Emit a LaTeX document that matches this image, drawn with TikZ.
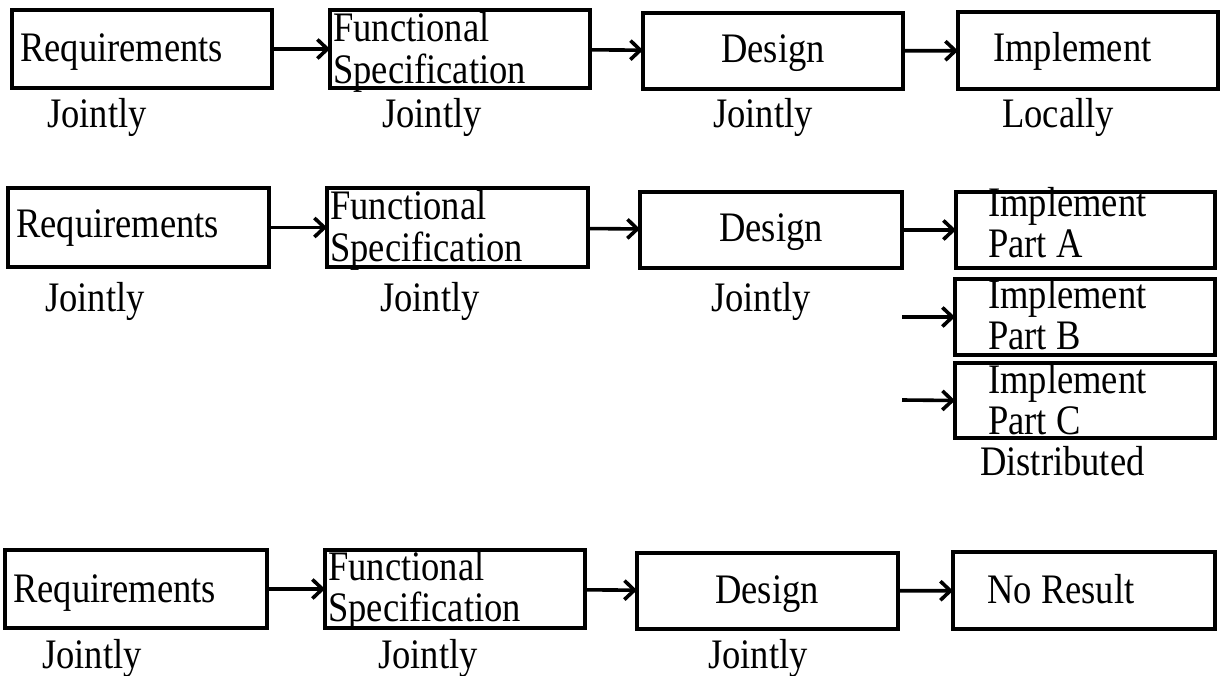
\documentclass[tikz,border=0pt]{standalone}
\usepackage{graphicx}
\usepackage{fontspec}
\setmainfont{Liberation Serif}
\usetikzlibrary{arrows.meta}

% slightly condensed text, as in the printed chart
\newcommand\narrow[1]{\scalebox{0.87}[1]{#1}}
\newcommand\twolines[2]{\narrow{\begin{tabular}[t]{@{}l@{}}#1\\#2\end{tabular}}}

\tikzset{
  stage/.style={draw, line width=3.6pt, inner sep=0pt, outer sep=0pt,
                minimum width=260pt, minimum height=77pt},
  txt/.style={inner sep=0pt, anchor=base west},
  ctxt/.style={inner sep=0pt, anchor=base},
  flow/.style={line width=3.6pt, -{Straight Barb[length=10pt,width=19pt]}}
}

\begin{document}
\begin{tikzpicture}[x=1pt, y=-1pt, font=\fontsize{42}{41}\selectfont]
\fill[white] (0,0) rectangle (1225,676);
\useasboundingbox (0,0) rectangle (1225,676);

% ---------- first flow: implemented locally ----------
\node[stage, minimum height=78pt] (r1) at (142,49) {};
\node[stage, minimum height=78pt] (f1) at (460,49) {};
\node[stage, minimum height=76pt] (d1) at (773,51) {};
\node[stage] (i1) at (1088,50.5) {};
\node[txt]  (r1t) at (20,62)   {\narrow{Requirements}};
\node[txt]  (f1t) at (333,42)  {\twolines{Functional}{Specification}};
\node[ctxt] (d1t) at (773,63)  {\narrow{Design}};
\node[txt]  (i1t) at (993,62)  {\narrow{Implement}};
\node[txt]  (r1l) at (47,128)  {\narrow{Jointly}};
\node[txt]  (f1l) at (382,128) {\narrow{Jointly}};
\node[txt]  (d1l) at (713,128) {\narrow{Jointly}};
\node[txt]  (i1l) at (1002,128){\narrow{Locally}};
\draw[flow] (r1) -- (f1);
\draw[flow] (f1) -- (d1);
\draw[flow] (d1) -- (i1);

% ---------- second flow: implemented in parts ----------
\node[stage, minimum width=261pt, minimum height=79pt] (r2) at (138.5,227.5) {};
\node[stage, minimum width=261pt, minimum height=79pt] (f2) at (457.5,227.5) {};
\node[stage, minimum width=262pt, minimum height=76pt] (d2) at (771,230) {};
\node[stage, minimum width=259pt, minimum height=76pt] (a2) at (1085.5,230) {};
\node[stage, minimum height=76pt] (b2) at (1085,317) {};
\node[stage, minimum height=75pt] (c2) at (1085,400.5) {};
\node[txt]  (r2t) at (16,238)  {\narrow{Requirements}};
\node[txt]  (f2t) at (330,220) {\twolines{Functional}{Specification}};
\node[ctxt] (d2t) at (771,242) {\narrow{Design}};
\node[txt]  (a2t) at (988,217) {\twolines{Implement}{Part A}};
\node[txt]  (b2t) at (988,308) {\twolines{Implement}{Part B}};
\node[txt]  (c2t) at (988,393) {\twolines{Implement}{Part C}};
\node[txt]  (r2l) at (45,311)  {\narrow{Jointly}};
\node[txt]  (f2l) at (380,311) {\narrow{Jointly}};
\node[txt]  (d2l) at (711,311) {\narrow{Jointly}};
\node[txt]  (c2l) at (980,475) {\narrow{Distributed}};
\coordinate (bin) at (902,317);
\coordinate (cin) at (902,400);
\draw[flow] (r2) -- (f2);
\draw[flow] (f2) -- (d2);
\draw[flow] (d2) -- (a2);
\draw[flow] (bin) -- (b2.west);
\draw[flow] (cin) -- (c2.west);

% ---------- third flow: no result ----------
\node[stage, minimum width=262pt, minimum height=78pt] (r3) at (136,589) {};
\node[stage, minimum height=78pt] (f3) at (455,589) {};
\node[stage, minimum width=261pt, minimum height=76pt] (d3) at (767.5,591) {};
\node[stage, minimum width=262pt] (n3) at (1084,590.5) {};
\node[txt]  (r3t) at (13,602)  {\narrow{Requirements}};
\node[txt]  (f3t) at (328,580) {\twolines{Functional}{Specification}};
\node[ctxt] (d3t) at (767,603) {\narrow{Design}};
\node[txt]  (n3t) at (987,603) {\narrow{No Result}};
\node[txt]  (r3l) at (42,668)  {\narrow{Jointly}};
\node[txt]  (f3l) at (378,668) {\narrow{Jointly}};
\node[txt]  (d3l) at (708,668) {\narrow{Jointly}};
\draw[flow] (r3) -- (f3);
\draw[flow] (f3) -- (d3);
\draw[flow] (d3) -- (n3);
\end{tikzpicture}
\end{document}
